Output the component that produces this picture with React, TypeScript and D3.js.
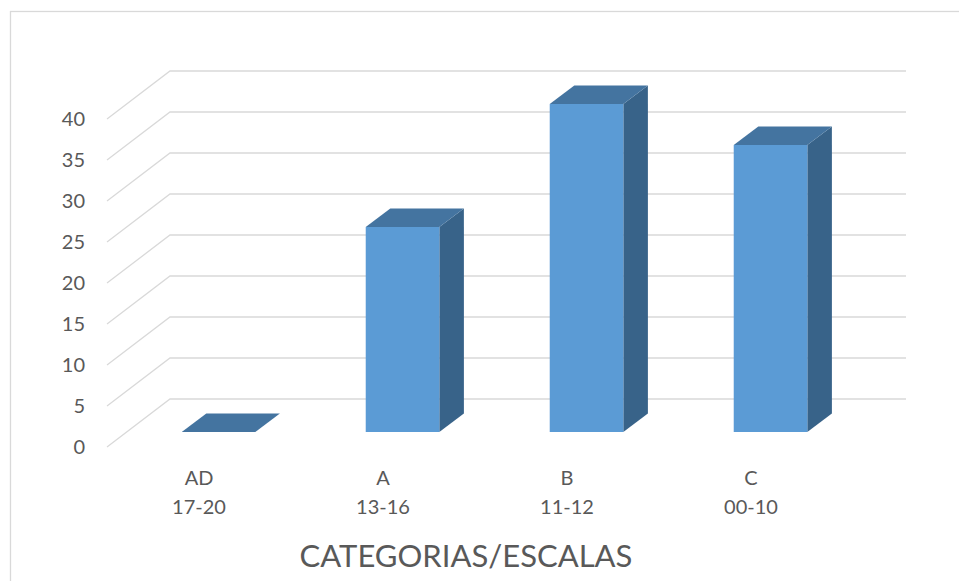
import React from "react";
import * as d3 from "d3";

// Category labels (two lines each) and counts per category
const categories = ["AD", "A", "B", "C"];
const ranges = ["17-20", "13-16", "11-12", "00-10"];
const counts = [0, 25, 40, 35];
const yTicks = [0, 5, 10, 15, 20, 25, 30, 35, 40];
const axisTitle = "CATEGORIAS/ESCALAS";

const W = 959;
const H = 581;

// Floor geometry: front edge, and the offset to the back wall
const floorX = 107;
const floorY = 447;
const floorW = 736;
const depthDx = 63;
const depthDy = -48;

// Depth positions (0 = front edge, 1 = back wall) of the column faces
const barFront = 0.31;
const barBack = 0.7;
const barFrac = 0.4;

const FONT = "Lato, 'Open Sans', sans-serif";
const TEXT = "#595959";
const GRID = "#d9d9d9";
const FACE = "#5b9bd5";
const TOP = "#4474a0";
const SIDE = "#386389";

export default function App() {
  const y = d3.scaleLinear().domain([0, 40]).range([0, 328]);
  const x = d3.scaleBand<string>().domain(categories).range([0, floorW]).padding(0);

  const proj = (fx: number, t: number, v: number): [number, number] => [
    floorX + fx + depthDx * t,
    floorY + depthDy * t - y(v),
  ];
  const pts = (arr: [number, number][]) => arr.map((p) => p.join(",")).join(" ");

  const bw = x.bandwidth() * barFrac;

  return (
    <svg
      width={W}
      height={H}
      style={{ position: "absolute", left: 0, top: 0, background: "#fff" }}
      fontFamily={FONT}
    >
      <rect x={10.5} y={11.5} width={W + 10} height={H + 10} fill="#fff" stroke={GRID} strokeWidth={1.3} />

      {/* side wall diagonals and back wall gridlines */}
      {yTicks.map((v) => {
        const a = proj(0, 0, v);
        const b = proj(0, 1, v);
        const c = proj(floorW, 1, v);
        return (
          <polyline
            key={v}
            points={pts([a, b, c])}
            fill="none"
            stroke={GRID}
            strokeWidth={1.3}
          />
        );
      })}

      {/* value axis labels */}
      {yTicks.map((v) => {
        const [, py] = proj(0, 0, v);
        return (
          <text
            key={v}
            x={85}
            y={py}
            dy="0.35em"
            textAnchor="end"
            fontSize={20}
            fill={TEXT}
          >
            {v}
          </text>
        );
      })}

      {/* columns */}
      {categories.map((cat, i) => {
        const v = counts[i];
        const c = (x(cat) ?? 0) + x.bandwidth() / 2;
        const l = c - bw / 2;
        const r = c + bw / 2;
        const front = [proj(l, barFront, 0), proj(r, barFront, 0), proj(r, barFront, v), proj(l, barFront, v)] as [number, number][];
        const top = [proj(l, barFront, v), proj(r, barFront, v), proj(r, barBack, v), proj(l, barBack, v)] as [number, number][];
        const side = [proj(r, barFront, 0), proj(r, barBack, 0), proj(r, barBack, v), proj(r, barFront, v)] as [number, number][];
        return (
          <g key={cat}>
            <polygon points={pts(side)} fill={SIDE} />
            <polygon points={pts(front)} fill={FACE} />
            <polygon points={pts(top)} fill={TOP} />
          </g>
        );
      })}

      {/* category labels */}
      {categories.map((cat, i) => {
        const cx = floorX + (x(cat) ?? 0) + x.bandwidth() / 2;
        return (
          <text key={cat} textAnchor="middle" fontSize={20} fill={TEXT}>
            <tspan x={cx} y={485}>{cat}</tspan>
            <tspan x={cx} y={514}>{ranges[i]}</tspan>
          </text>
        );
      })}

      <text x={466} y={567} textAnchor="middle" fontSize={31} fill={TEXT}>
        {axisTitle}
      </text>
    </svg>
  );
}
